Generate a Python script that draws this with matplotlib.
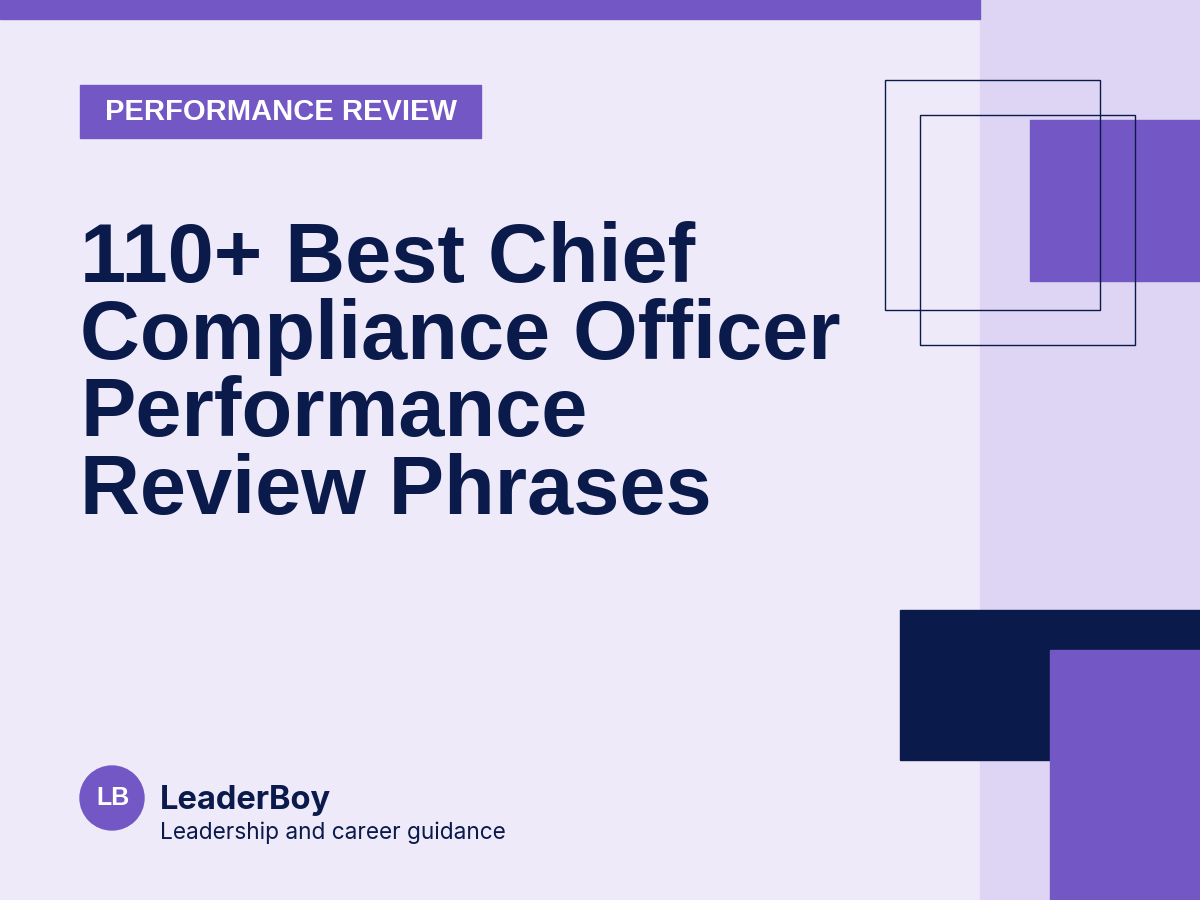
import matplotlib
matplotlib.use("Agg")
import matplotlib.pyplot as plt
from matplotlib.patches import Rectangle, Circle

# -----------------------------
# Content
# -----------------------------
tag_text = "PERFORMANCE REVIEW"
title_lines = ["110+ Best Chief", "Compliance Officer", "Performance", "Review Phrases"]
brand_initials = "LB"
brand_name = "LeaderBoy"
brand_tagline = "Leadership and career guidance"

# colours
bg = "#efeafa"
panel = "#ddd5f3"
purple = "#7357c5"
navy = "#0a1a4a"

fig = plt.figure(figsize=(12, 9), dpi=100)
fig.patch.set_facecolor(bg)
ax = fig.add_axes([0, 0, 1, 1])
ax.set_xlim(0, 1200)
ax.set_ylim(900, 0)
ax.axis("off")

# background blocks
ax.add_patch(Rectangle((980, 0), 220, 900, color=panel, zorder=1))
ax.add_patch(Rectangle((0, 0), 980, 19, color=purple, zorder=2))

# top-right decoration
ax.add_patch(Rectangle((1030, 120), 170, 161, color=purple, zorder=2))
ax.add_patch(Rectangle((885, 80), 215, 230, fill=False, ec=navy, lw=1.0, zorder=3))
ax.add_patch(Rectangle((920, 115), 215, 230, fill=False, ec=navy, lw=1.0, zorder=3))

# bottom-right decoration
ax.add_patch(Rectangle((900, 610), 300, 150, color=navy, zorder=2))
ax.add_patch(Rectangle((1050, 650), 150, 250, color=purple, zorder=3))

# tag
ax.add_patch(Rectangle((80, 85), 401, 53, color=purple, zorder=2))
ax.text(281, 120, tag_text, color="white", fontsize=21, fontweight="bold",
        family="Liberation Sans", ha="center", va="baseline", zorder=4)

# title
for i, line in enumerate(title_lines):
    ax.text(80, 282 + i * 77.2, line, color=navy, fontsize=59.8, fontweight="bold",
            family="Liberation Sans", ha="left", va="baseline", zorder=4)

# brand
ax.add_patch(Circle((112, 798), 32, color=purple, zorder=3))
ax.text(112.5, 805, brand_initials, color="white", fontsize=18, fontweight="bold",
        family="Liberation Sans", ha="center", va="baseline", zorder=4)
ax.text(160, 809, brand_name, color=navy, fontsize=23.5, fontweight="bold",
        family="Inter", ha="left", va="baseline", zorder=4)
ax.text(160, 839, brand_tagline, color=navy, fontsize=16.3,
        family="Inter", ha="left", va="baseline", zorder=4)

fig.savefig("out.png", dpi=100, facecolor=bg)
